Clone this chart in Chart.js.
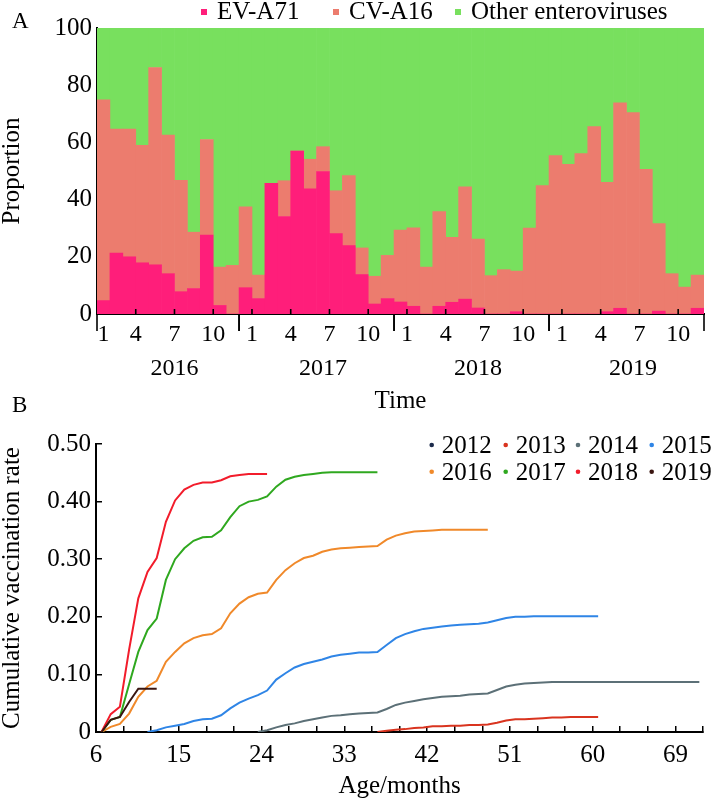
<!DOCTYPE html>
<html><head><meta charset="utf-8">
<script src="https://cdn.jsdelivr.net/npm/chart.js@4.4.1/dist/chart.umd.min.js"></script>
<style>
html,body{margin:0;padding:0;background:#fff;}
#wrap{position:relative;width:725px;height:804px;overflow:hidden;}
#ca{position:absolute;left:0;top:0;}
#cb{position:absolute;left:0;top:395px;}
</style></head><body>
<div id="wrap"><canvas id="ca" width="725" height="420"></canvas><canvas id="cb" width="725" height="409"></canvas></div>
<script>
// pick an installed serif family (Times-like preferred)
function pickSerif() {
  const c = document.createElement('canvas').getContext('2d');
  const s = 'mmmmmmmmmmlli1WQ@#abcdefghijklmnopqrstuvwxyz0123456789';
  const cands = ['Liberation Serif', 'Times New Roman', 'Times', 'Nimbus Roman', 'Tinos', 'DejaVu Serif', 'Noto Serif'];
  for (const f of cands) {
    let same = true;
    for (const g of ['monospace', 'sans-serif']) {
      c.font = '40px ' + g; const w1 = c.measureText(s).width;
      c.font = '40px "' + f + '", ' + g; const w2 = c.measureText(s).width;
      if (w1 === w2) same = false; // not different -> maybe not installed
    }
    if (same) return '"' + f + '", serif';
  }
  return 'serif';
}
const FONT = pickSerif();

// ---------- Panel A data ----------
const months = [
 '2016-02','2016-03','2016-04','2016-05','2016-06','2016-07','2016-08','2016-09','2016-10','2016-11','2016-12',
 '2017-01','2017-02','2017-03','2017-04','2017-05','2017-06','2017-07','2017-08','2017-09','2017-10','2017-11','2017-12',
 '2018-01','2018-02','2018-03','2018-04','2018-05','2018-06','2018-07','2018-08','2018-09','2018-10','2018-11','2018-12',
 '2019-01','2019-02','2019-03','2019-04','2019-05','2019-06','2019-07','2019-08','2019-09','2019-10','2019-11','2019-12'];
const evA71 = [
 4.7, 21.3, 20.0, 17.9, 17.2, 14.1, 7.8, 8.9, 27.6, 3.0, 0,
 9.2, 5.4, 45.7, 34.1, 57.0, 43.8, 49.8, 28.1, 23.9, 13.8, 3.5, 5.4,
 4.2, 2.7, 0, 2.7, 4.1, 5.2, 2.1, 0, 0, 0.8, 0, 0,
 0, 0, 0, 0, 0.8, 2.0, 0, 0, 1.0, 0, 0, 2.0];
const cvA16 = [
 70.2, 43.4, 44.7, 41.1, 69.0, 48.5, 38.9, 19.7, 33.4, 13.4, 17.0,
 28.3, 8.2, 0, 12.5, 0, 10.3, 8.7, 15.0, 24.5, 9.3, 9.7, 15.1,
 25.1, 27.4, 16.4, 33.1, 22.7, 39.3, 24.1, 13.4, 15.5, 14.2, 30.0, 44.9,
 55.4, 52.3, 56.1, 65.5, 45.2, 71.8, 70.4, 50.6, 30.6, 14.1, 9.4, 11.6];
const otherEV = [
 25.1, 35.3, 35.3, 41.0, 13.8, 37.4, 53.3, 71.4, 39.0, 83.6, 83.0,
 62.5, 86.4, 54.3, 53.4, 43.0, 45.9, 41.5, 56.9, 51.6, 76.9, 86.8, 79.5,
 70.7, 69.9, 83.6, 64.2, 73.2, 55.5, 73.8, 86.6, 84.5, 85.0, 70.0, 55.1,
 44.6, 47.7, 43.9, 34.5, 54.0, 26.2, 29.6, 49.4, 68.4, 85.9, 90.6, 86.4];
const seriesA = ['EV-A71', 'CV-A16', 'Other enteroviruses'];
const monthTickLabels = [1, 4, 7, 10];

// ---------- Panel B data ----------
const cohorts = ['2012','2013','2014','2015','2016','2017','2018','2019'];
const cohortStartAge = [null, 36.6, 23.6, 11.6, 6.6, 6.6, 6.6, 6.6];
const rate2012 = [];
const rate2013 = [0, .002, .004, .005, .007, .008, .010, .010, .011, .011, .012, .012, .013,
 .016, .020, .022, .022, .023, .024, .025, .025, .026, .026, .026, .026];
const rate2014 = [0,
 .003, .008, .012, .015, .019, .022, .025, .028, .029, .031, .032, .033, .034,
 .040, .047, .051, .054, .057, .059, .061, .062, .063, .065, .066, .067,
 .073, .079, .082, .084, .085, .086, .087, .087, .087, .087, .087, .087,
 .087, .087, .087, .087, .087, .087, .087, .087, .087, .087, .087];
const rate2015 = [0,
 .003, .008, .011, .014, .019, .022, .023, .029, .041, .051, .058, .064,
 .072, .091, .102, .112, .118, .122, .126, .131, .134, .136, .138, .138, .139,
 .151, .163, .170, .175, .179, .181, .183, .185, .186, .187, .188, .190,
 .194, .198, .200, .200, .201, .201, .201, .201, .201, .201, .201, .201];
const rate2016 = [0, .009, .014, .032, .061, .079, .089, .122, .139, .154, .163, .168, .170, .180, .206, .223, .234, .240,
 .242, .264, .281, .293, .302, .306, .313, .317, .319, .320, .321, .322, .323,
 .334, .341, .345, .348, .349, .350, .351, .351, .351, .351, .351, .351];
const rate2017 = [0, .021, .026, .083, .139, .177, .197, .264, .300, .319, .332, .338, .339, .350, .373, .392, .400, .403,
 .409, .426, .438, .443, .446, .448, .450, .451, .451, .451, .451, .451, .451];
const rate2018 = [0, .031, .044, .143, .232, .278, .302, .365, .402, .421, .429, .433, .433, .437, .444, .446, .448, .448, .448];
const rate2019 = [0, .021, .026, .052, .075, .075, .075];
const ratesB = [rate2012, rate2013, rate2014, rate2015, rate2016, rate2017, rate2018, rate2019];
const colorsB = ['#1b2a4b', '#d9341f', '#5c7077', '#2f85e6', '#f0892a', '#2fa81f', '#f21c2b', '#3a1510'];
const xTickLabelsB = [6, 15, 24, 33, 42, 51, 60, 69];

// ---------- Panel A ----------
const decorA = {
  id: 'decorA',
  afterDraw(chart) {
    const ctx = chart.ctx, xs = chart.scales.x, ca = chart.chartArea;
    const half = (xs.getPixelForValue(1) - xs.getPixelForValue(0)) / 2;
    ctx.save();
    ctx.strokeStyle = '#000'; ctx.fillStyle = '#000';
    const groups = {};
    chart.data.labels.forEach((lab, i) => {
      const p = lab.split('-').map(Number);
      (groups[p[0]] = groups[p[0]] || []).push({i: i, m: p[1]});
    });
    ctx.textAlign = 'center'; ctx.textBaseline = 'alphabetic';
    Object.keys(groups).forEach(y => {
      const arr = groups[y];
      const first = arr[0].i, last = arr[arr.length - 1].i, m0 = arr[0].m;
      const segL = xs.getPixelForValue(first - 0.5), segR = xs.getPixelForValue(last + 0.5);
      ctx.lineWidth = 1.6;
      [segL, segR].forEach(x => { ctx.beginPath(); ctx.moveTo(x, ca.bottom); ctx.lineTo(x, ca.bottom + 17); ctx.stroke(); });
      ctx.font = '24px ' + FONT;
      monthTickLabels.forEach(m => {
        const x = xs.getPixelForValue(first + (m - m0) + 0.5);
        if (x > ca.left + 1) { ctx.beginPath(); ctx.moveTo(x, ca.bottom); ctx.lineTo(x, ca.bottom - 5); ctx.stroke(); }
        ctx.fillText(String(m), Math.max(x, ca.left + half), 341);
      });
      ctx.fillText(y, (xs.getPixelForValue(first + 0.5) + xs.getPixelForValue(last + 0.5)) / 2, 375);
    });
    // legend
    const lx = [201, 333, 455];
    ctx.font = '25px ' + FONT; ctx.textAlign = 'left';
    chart.data.datasets.forEach((d, k) => {
      ctx.fillStyle = d.backgroundColor; ctx.fillRect(lx[k], 9, 6, 6);
      ctx.fillStyle = '#000'; ctx.fillText(d.label, lx[k] + 16, 18.5);
    });
    ctx.font = '23px ' + FONT;
    ctx.fillText('A', 12, 28);
    ctx.restore();
  }
};

new Chart(document.getElementById('ca'), {
  type: 'bar',
  data: {
    labels: months,
    datasets: [
      {label: seriesA[0], data: evA71, backgroundColor: '#ff1e7a'},
      {label: seriesA[1], data: cvA16, backgroundColor: '#ec7c6e'},
      {label: seriesA[2], data: otherEV, backgroundColor: '#78e05e'}
    ]
  },
  options: {
    responsive: false, animation: false, devicePixelRatio: 1,
    layout: {padding: {top: 28, right: 21, left: 0, bottom: 0}},
    plugins: {legend: {display: false}, tooltip: {enabled: false}},
    datasets: {bar: {barPercentage: 1, categoryPercentage: 1, borderWidth: 0}},
    scales: {
      x: {
        stacked: true,
        grid: {display: false, drawTicks: false},
        border: {display: true, color: '#000', width: 2},
        ticks: {display: false},
        title: {display: true, text: 'Time', color: '#000', font: {family: FONT, size: 25, lineHeight: 1}, padding: {top: 0, bottom: 6.5}},
        afterFit: s => { s.height = 106; }
      },
      y: {
        stacked: true, min: 0, max: 100,
        grid: {display: false, drawTicks: false},
        border: {display: true, color: '#000', width: 2},
        ticks: {stepSize: 20, color: '#000', padding: 5, font: {family: FONT, size: 25}},
        title: {display: true, text: 'Proportion', color: '#000', font: {family: FONT, size: 25, lineHeight: 1}, padding: 0},
        afterFit: s => { s.width = 97; }
      }
    }
  },
  plugins: [decorA]
});

// ---------- Panel B ----------
const decorB = {
  id: 'decorB',
  afterDraw(chart) {
    const ctx = chart.ctx;
    ctx.save();
    const colX = [431.7, 505.7, 578, 651.7];
    const rowY = [50, 76.7];
    ctx.font = '25px ' + FONT; ctx.textAlign = 'left'; ctx.textBaseline = 'alphabetic';
    chart.data.datasets.forEach((d, k) => {
      const cx = colX[k % 4], cy = rowY[Math.floor(k / 4)];
      ctx.fillStyle = d.borderColor;
      ctx.beginPath(); ctx.arc(cx, cy, 2.3, 0, Math.PI * 2); ctx.fill();
      ctx.fillStyle = '#000'; ctx.fillText(d.label, cx + 10, cy + 8.3);
    });
    ctx.font = '23px ' + FONT;
    ctx.fillText('B', 12, 17);
    ctx.restore();
  }
};

new Chart(document.getElementById('cb'), {
  type: 'line',
  data: {
    datasets: cohorts.map((c, k) => ({
      label: c,
      data: ratesB[k].map((v, i) => ({x: +(cohortStartAge[k] + i).toFixed(1), y: v})),
      borderColor: colorsB[k],
      backgroundColor: colorsB[k],
      borderWidth: 2,
      pointRadius: 0,
      fill: false,
      tension: 0,
      order: 8 - k
    }))
  },
  options: {
    responsive: false, animation: false, devicePixelRatio: 1,
    layout: {padding: {top: 49, right: 22, left: 0, bottom: 0}},
    plugins: {legend: {display: false}, tooltip: {enabled: false}},
    scales: {
      x: {
        type: 'linear', min: 6, max: 72,
        grid: {display: true, drawOnChartArea: false, drawTicks: true, tickLength: -6, color: '#000', lineWidth: 1.5},
        border: {display: true, color: '#000', width: 2},
        ticks: {stepSize: 3, autoSkip: false, maxRotation: 0, color: '#000', padding: 14,
                font: {family: FONT, size: 25},
                callback: v => xTickLabelsB.includes(v) ? String(v) : ''},
        title: {display: true, text: 'Age/months', color: '#000', font: {family: FONT, size: 25, lineHeight: 1}, padding: {top: 0, bottom: 5.5}},
        afterFit: s => { s.height = 72; }
      },
      y: {
        min: 0, max: 0.5,
        grid: {display: true, drawOnChartArea: false, drawTicks: true, tickLength: -6, color: '#000', lineWidth: 1.5},
        border: {display: true, color: '#000', width: 2},
        ticks: {stepSize: 0.1, color: '#000', padding: 11, font: {family: FONT, size: 25},
                callback: v => v === 0 ? '0' : v.toFixed(2)},
        title: {display: true, text: 'Cumulative vaccination rate', color: '#000', font: {family: FONT, size: 25, lineHeight: 1}, padding: 0},
        afterFit: s => { s.width = 96; }
      }
    }
  },
  plugins: [decorB]
});
</script>
</body></html>
